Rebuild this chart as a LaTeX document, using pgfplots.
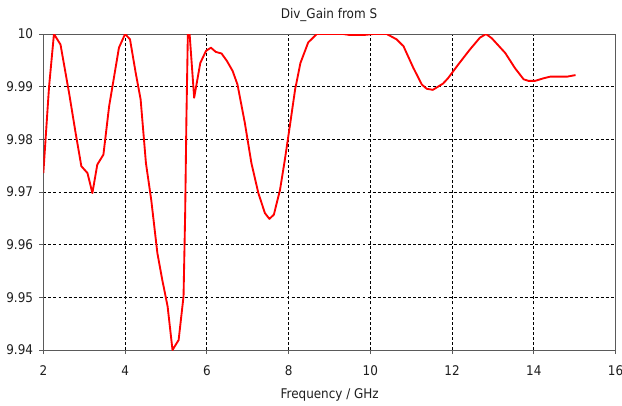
\documentclass[border=0pt]{standalone}
\usepackage{fontspec}
\setmainfont{DejaVu Sans Condensed}
\usepackage{pgfplots}
\pgfplotsset{compat=1.18}
\definecolor{cAx}{HTML}{5A5A5A}
\definecolor{cTxt}{HTML}{1E1E1E}

\pgfplotstableread{
f g
2.00 9.9736
2.14 9.9900
2.26 10.000
2.42 9.9980
2.63 9.9888
2.79 9.9812
2.93 9.9749
3.08 9.9736
3.20 9.9698
3.32 9.9752
3.47 9.9771
3.61 9.9863
3.85 9.9974
4.00 10.000
4.12 9.9990
4.26 9.9926
4.38 9.9876
4.51 9.9755
4.64 9.9685
4.79 9.9584
4.91 9.9533
5.04 9.9483
5.16 9.9400
5.31 9.9419
5.43 9.9502
5.47 9.9660
5.50 9.9838
5.54 10.002
5.56 10.002
5.69 9.9879
5.84 9.9945
5.98 9.9968
6.10 9.9974
6.22 9.9966
6.36 9.9963
6.49 9.9949
6.63 9.9930
6.75 9.9904
6.93 9.9831
7.09 9.9755
7.26 9.9698
7.42 9.9660
7.53 9.9649
7.64 9.9657
7.79 9.9704
7.91 9.9762
8.03 9.9825
8.16 9.9895
8.29 9.9945
8.48 9.9984
8.69 10.000
8.93 10.000
9.34 10.000
9.50 9.9998
9.83 9.9998
10.07 10.000
10.40 10.000
10.64 9.9990
10.81 9.9977
11.05 9.9936
11.26 9.9904
11.38 9.9896
11.53 9.9894
11.78 9.9906
11.90 9.9916
12.15 9.9942
12.43 9.9970
12.68 9.9993
12.83 10.000
12.97 9.9992
13.30 9.9964
13.54 9.9935
13.75 9.9914
13.87 9.9911
14.03 9.9911
14.24 9.9916
14.40 9.9919
14.81 9.9919
15.02 9.9922
}\gain

\begin{document}
\begin{tikzpicture}
% page = 622x405 px at 0.75pt/px
\useasboundingbox (0,0) rectangle (466.5pt,303.75pt);
\begin{axis}[
  at={(32.5pt,41.25pt)}, anchor=south west,
  scale only axis, width=429.2pt, height=237pt,
  xmin=2, xmax=16, ymin=9.94, ymax=10,
  xtick={2,4,...,16},
  ytick={9.94,9.95,9.96,9.97,9.98,9.99,10},
  yticklabel style={/pgf/number format/fixed,/pgf/number format/precision=2,xshift=-1.2pt},
  xticklabel style={yshift=-5pt},
  /pgf/number format/assume math mode=true,
  font=\fontsize{10}{12}\selectfont,
  tick label style={color=cTxt},
  tick align=outside, tick pos=left,
  major tick length=3pt,
  tick style={draw=cAx, line width=0.75pt},
  axis line style={draw=cAx, line width=0.75pt},
  grid=major,
  major grid style={black, line width=0.6pt, dash pattern=on 2.2pt off 1.6pt},
  clip=true,
]
  \addplot[red, line width=1.4pt, line join=round] table[x=f,y=g] {\gain};
\end{axis}
\node[anchor=base, font=\fontsize{10}{12}\selectfont, text=cTxt] at (246.75pt,290pt) {Div\_Gain from S};
\node[anchor=base, font=\fontsize{10}{12}\selectfont, text=cTxt] at (247.3pt,5pt) {Frequency / GHz};
\end{tikzpicture}
\end{document}
